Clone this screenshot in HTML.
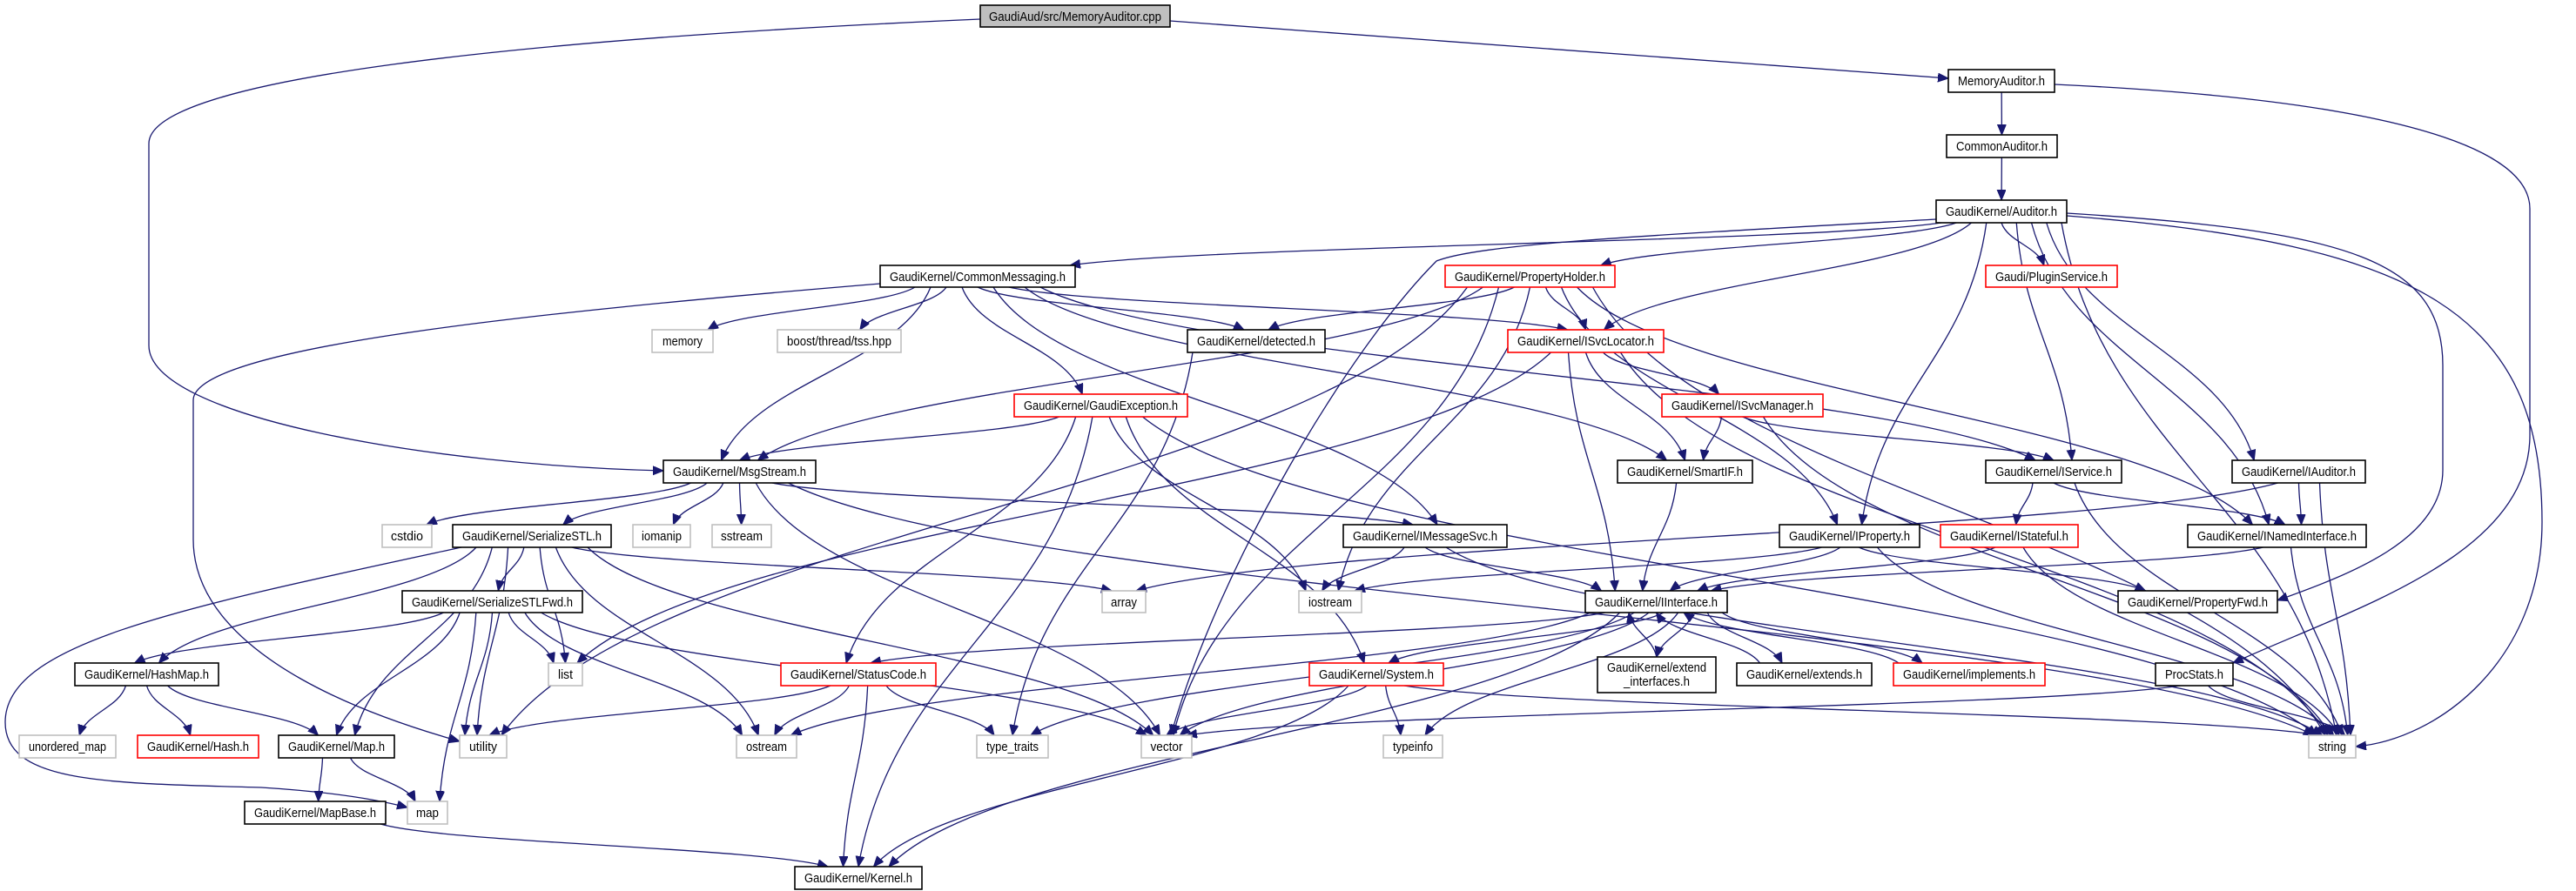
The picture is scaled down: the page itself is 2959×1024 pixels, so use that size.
<!DOCTYPE html>
<html><head><meta charset="utf-8">
<style>
html,body{margin:0;padding:0;background:#fff;}
svg{display:block;}
text{font-family:"Liberation Sans",Helvetica,Arial,sans-serif;font-size:15px;fill:#000;}
.b{fill:#fff;stroke:#000;stroke-width:1.6;}
.r{fill:#fff;stroke:#ff0000;stroke-width:1.6;}
.g{fill:#fff;stroke:#bfbfbf;stroke-width:1.6;}
.e{fill:none;stroke:#191970;stroke-width:1.3;}
</style></head>
<body>
<svg id="s" xmlns="http://www.w3.org/2000/svg" width="2959" height="1024" viewBox="0 0 2959 1024">
<defs><marker id="a" markerUnits="userSpaceOnUse" markerWidth="14" markerHeight="12" refX="12" refY="5" orient="auto"><path d="M0,0 L12,5 L0,10 z" fill="#191970" stroke="#191970"/></marker></defs>
<g id="edges"></g>
<g id="nodes">
<rect x="1126" y="6" width="218" height="25" fill="#bfbfbf" stroke="#000" stroke-width="1.6"/><text x="1235" y="24" text-anchor="middle" textLength="198" lengthAdjust="spacingAndGlyphs">GaudiAud/src/MemoryAuditor.cpp</text>
<rect class="b" x="2238" y="80" width="122" height="26"/><text x="2299" y="98" text-anchor="middle" textLength="100" lengthAdjust="spacingAndGlyphs">MemoryAuditor.h</text>
<rect class="b" x="2236" y="155" width="127" height="26"/><text x="2299.5" y="173" text-anchor="middle" textLength="105" lengthAdjust="spacingAndGlyphs">CommonAuditor.h</text>
<rect class="b" x="2224" y="230" width="150" height="26"/><text x="2299" y="248" text-anchor="middle" textLength="128" lengthAdjust="spacingAndGlyphs">GaudiKernel/Auditor.h</text>
<rect class="r" x="2281" y="305" width="151" height="25"/><text x="2356.5" y="323" text-anchor="middle" textLength="129" lengthAdjust="spacingAndGlyphs">Gaudi/PluginService.h</text>
<rect class="b" x="1011" y="305" width="224" height="25"/><text x="1123" y="323" text-anchor="middle" textLength="202" lengthAdjust="spacingAndGlyphs">GaudiKernel/CommonMessaging.h</text>
<rect class="r" x="1660" y="305" width="195" height="25"/><text x="1757.5" y="323" text-anchor="middle" textLength="173" lengthAdjust="spacingAndGlyphs">GaudiKernel/PropertyHolder.h</text>
<rect class="g" x="749" y="379" width="70" height="26"/><text x="784" y="397" text-anchor="middle" textLength="46" lengthAdjust="spacingAndGlyphs">memory</text>
<rect class="g" x="893" y="379" width="142" height="26"/><text x="964" y="397" text-anchor="middle" textLength="120" lengthAdjust="spacingAndGlyphs">boost/thread/tss.hpp</text>
<rect class="b" x="1364" y="379" width="158" height="26"/><text x="1443" y="397" text-anchor="middle" textLength="136" lengthAdjust="spacingAndGlyphs">GaudiKernel/detected.h</text>
<rect class="r" x="1732" y="379" width="179" height="26"/><text x="1821.5" y="397" text-anchor="middle" textLength="157" lengthAdjust="spacingAndGlyphs">GaudiKernel/ISvcLocator.h</text>
<rect class="r" x="1165" y="453" width="199" height="26"/><text x="1264.5" y="471" text-anchor="middle" textLength="177" lengthAdjust="spacingAndGlyphs">GaudiKernel/GaudiException.h</text>
<rect class="r" x="1909" y="453" width="185" height="26"/><text x="2001.5" y="471" text-anchor="middle" textLength="163" lengthAdjust="spacingAndGlyphs">GaudiKernel/ISvcManager.h</text>
<rect class="b" x="762" y="529" width="175" height="26"/><text x="849.5" y="547" text-anchor="middle" textLength="153" lengthAdjust="spacingAndGlyphs">GaudiKernel/MsgStream.h</text>
<rect class="b" x="1858" y="529" width="155" height="26"/><text x="1935.5" y="547" text-anchor="middle" textLength="133" lengthAdjust="spacingAndGlyphs">GaudiKernel/SmartIF.h</text>
<rect class="b" x="2281" y="529" width="156" height="26"/><text x="2359" y="547" text-anchor="middle" textLength="134" lengthAdjust="spacingAndGlyphs">GaudiKernel/IService.h</text>
<rect class="b" x="2564" y="529" width="153" height="26"/><text x="2640.5" y="547" text-anchor="middle" textLength="131" lengthAdjust="spacingAndGlyphs">GaudiKernel/IAuditor.h</text>
<rect class="g" x="439" y="603" width="57" height="26"/><text x="467.5" y="621" text-anchor="middle" textLength="37" lengthAdjust="spacingAndGlyphs">cstdio</text>
<rect class="b" x="520" y="603" width="182" height="26"/><text x="611" y="621" text-anchor="middle" textLength="160" lengthAdjust="spacingAndGlyphs">GaudiKernel/SerializeSTL.h</text>
<rect class="g" x="727" y="603" width="66" height="26"/><text x="760" y="621" text-anchor="middle" textLength="46" lengthAdjust="spacingAndGlyphs">iomanip</text>
<rect class="g" x="818" y="603" width="68" height="26"/><text x="852" y="621" text-anchor="middle" textLength="48" lengthAdjust="spacingAndGlyphs">sstream</text>
<rect class="b" x="1543" y="603" width="188" height="26"/><text x="1637" y="621" text-anchor="middle" textLength="166" lengthAdjust="spacingAndGlyphs">GaudiKernel/IMessageSvc.h</text>
<rect class="b" x="2044" y="603" width="161" height="26"/><text x="2124.5" y="621" text-anchor="middle" textLength="139" lengthAdjust="spacingAndGlyphs">GaudiKernel/IProperty.h</text>
<rect class="r" x="2229" y="603" width="158" height="26"/><text x="2308" y="621" text-anchor="middle" textLength="136" lengthAdjust="spacingAndGlyphs">GaudiKernel/IStateful.h</text>
<rect class="b" x="2513" y="603" width="205" height="26"/><text x="2615.5" y="621" text-anchor="middle" textLength="183" lengthAdjust="spacingAndGlyphs">GaudiKernel/INamedInterface.h</text>
<rect class="b" x="462" y="679" width="207" height="25"/><text x="565.5" y="697" text-anchor="middle" textLength="185" lengthAdjust="spacingAndGlyphs">GaudiKernel/SerializeSTLFwd.h</text>
<rect class="g" x="1266" y="679" width="50" height="25"/><text x="1291" y="697" text-anchor="middle" textLength="30" lengthAdjust="spacingAndGlyphs">array</text>
<rect class="g" x="1492" y="679" width="72" height="25"/><text x="1528" y="697" text-anchor="middle" textLength="50" lengthAdjust="spacingAndGlyphs">iostream</text>
<rect class="b" x="1821" y="679" width="163" height="25"/><text x="1902.5" y="697" text-anchor="middle" textLength="141" lengthAdjust="spacingAndGlyphs">GaudiKernel/IInterface.h</text>
<rect class="b" x="2433" y="679" width="183" height="25"/><text x="2524.5" y="697" text-anchor="middle" textLength="161" lengthAdjust="spacingAndGlyphs">GaudiKernel/PropertyFwd.h</text>
<rect class="b" x="86" y="762" width="165" height="26"/><text x="168.5" y="780" text-anchor="middle" textLength="143" lengthAdjust="spacingAndGlyphs">GaudiKernel/HashMap.h</text>
<rect class="g" x="630" y="762" width="39" height="26"/><text x="649.5" y="780" text-anchor="middle" textLength="17" lengthAdjust="spacingAndGlyphs">list</text>
<rect class="r" x="897" y="762" width="178" height="26"/><text x="986" y="780" text-anchor="middle" textLength="156" lengthAdjust="spacingAndGlyphs">GaudiKernel/StatusCode.h</text>
<rect class="r" x="1504" y="762" width="154" height="26"/><text x="1581" y="780" text-anchor="middle" textLength="132" lengthAdjust="spacingAndGlyphs">GaudiKernel/System.h</text>
<rect class="b" x="1835" y="755" width="136" height="41"/><text x="1903" y="772" text-anchor="middle" textLength="114" lengthAdjust="spacingAndGlyphs">GaudiKernel/extend</text><text x="1903" y="788" text-anchor="middle" textLength="76" lengthAdjust="spacingAndGlyphs">_interfaces.h</text>
<rect class="b" x="1995" y="762" width="155" height="26"/><text x="2072.5" y="780" text-anchor="middle" textLength="133" lengthAdjust="spacingAndGlyphs">GaudiKernel/extends.h</text>
<rect class="r" x="2175" y="762" width="174" height="26"/><text x="2262" y="780" text-anchor="middle" textLength="152" lengthAdjust="spacingAndGlyphs">GaudiKernel/implements.h</text>
<rect class="b" x="2476" y="762" width="89" height="26"/><text x="2520.5" y="780" text-anchor="middle" textLength="67" lengthAdjust="spacingAndGlyphs">ProcStats.h</text>
<rect class="g" x="22" y="845" width="111" height="26"/><text x="77.5" y="863" text-anchor="middle" textLength="89" lengthAdjust="spacingAndGlyphs">unordered_map</text>
<rect class="r" x="158" y="845" width="139" height="26"/><text x="227.5" y="863" text-anchor="middle" textLength="117" lengthAdjust="spacingAndGlyphs">GaudiKernel/Hash.h</text>
<rect class="b" x="320" y="845" width="133" height="26"/><text x="386.5" y="863" text-anchor="middle" textLength="111" lengthAdjust="spacingAndGlyphs">GaudiKernel/Map.h</text>
<rect class="g" x="528" y="845" width="54" height="26"/><text x="555" y="863" text-anchor="middle" textLength="32" lengthAdjust="spacingAndGlyphs">utility</text>
<rect class="g" x="846" y="845" width="69" height="26"/><text x="880.5" y="863" text-anchor="middle" textLength="47" lengthAdjust="spacingAndGlyphs">ostream</text>
<rect class="g" x="1122" y="845" width="82" height="26"/><text x="1163" y="863" text-anchor="middle" textLength="60" lengthAdjust="spacingAndGlyphs">type_traits</text>
<rect class="g" x="1311" y="845" width="58" height="26"/><text x="1340" y="863" text-anchor="middle" textLength="37" lengthAdjust="spacingAndGlyphs">vector</text>
<rect class="g" x="1589" y="845" width="68" height="26"/><text x="1623" y="863" text-anchor="middle" textLength="46" lengthAdjust="spacingAndGlyphs">typeinfo</text>
<rect class="g" x="2652" y="845" width="54" height="26"/><text x="2679" y="863" text-anchor="middle" textLength="32" lengthAdjust="spacingAndGlyphs">string</text>
<rect class="b" x="281" y="921" width="162" height="26"/><text x="362" y="939" text-anchor="middle" textLength="140" lengthAdjust="spacingAndGlyphs">GaudiKernel/MapBase.h</text>
<rect class="g" x="468" y="921" width="46" height="26"/><text x="491" y="939" text-anchor="middle" textLength="26" lengthAdjust="spacingAndGlyphs">map</text>
<rect class="b" x="913" y="996" width="146" height="26"/><text x="986" y="1014" text-anchor="middle" textLength="124" lengthAdjust="spacingAndGlyphs">GaudiKernel/Kernel.h</text>
</g>
</svg>
<script>
var N={cpp:[1126,6,1344,31],mah:[2238,80,2360,106],cah:[2236,155,2363,181],aud:[2224,230,2374,256],plug:[2281,305,2432,330],cm:[1011,305,1235,330],ph:[1660,305,1855,330],memory:[749,379,819,405],boost:[893,379,1035,405],det:[1364,379,1522,405],isl:[1732,379,1911,405],gex:[1165,453,1364,479],ism:[1909,453,2094,479],msg:[762,529,937,555],smart:[1858,529,2013,555],isvc:[2281,529,2437,555],iaud:[2564,529,2717,555],cstdio:[439,603,496,629],sstl:[520,603,702,629],iomanip:[727,603,793,629],sstream:[818,603,886,629],imsg:[1543,603,1731,629],iprop:[2044,603,2205,629],istate:[2229,603,2387,629],inamed:[2513,603,2718,629],sfwd:[462,679,669,704],array:[1266,679,1316,704],iostream:[1492,679,1564,704],iint:[1821,679,1984,704],pfwd:[2433,679,2616,704],hashmap:[86,762,251,788],list:[630,762,669,788],sc:[897,762,1075,788],sys:[1504,762,1658,788],extif:[1835,755,1971,796],extends:[1995,762,2150,788],impl:[2175,762,2349,788],procstats:[2476,762,2565,788],umap:[22,845,133,871],hash:[158,845,297,871],map_h:[320,845,453,871],utility:[528,845,582,871],ostream:[846,845,915,871],ttraits:[1122,845,1204,871],vector:[1311,845,1369,871],typeinfo:[1589,845,1657,871],string:[2652,845,2706,871],mapbase:[281,921,443,947],map:[468,921,514,947],kernel:[913,996,1059,1022]};
var E={cm:['memory','boost','msg','det','isl','gex','imsg','smart','isvc'],
ph:['msg','det','isl','iprop','inamed','string','iostream','vector','utility'],
aud:['cm','ph','plug','isl','isvc','iaud','iprop','string','inamed'],
mah:['cah'],cah:['aud'],det:['ttraits'],
isl:['list','ism','smart','iint','string'],
gex:['msg','sc','sys','kernel','iostream','string'],
ism:['smart','isvc','string'],
msg:['cstdio','sstl','iomanip','sstream','imsg','vector','string'],
smart:['iint'],isvc:['istate','inamed','string'],iaud:['inamed','string','array'],
sstl:['sfwd','hashmap','map_h','utility','list','ostream','vector','array'],
imsg:['iostream','iint','string'],iprop:['iint','pfwd','string','iostream'],
istate:['iint','string'],inamed:['iint','string'],
sfwd:['hashmap','map_h','list','utility','map','ostream','vector'],
iint:['sc','sys','extif','extends','impl','ostream','ttraits','typeinfo','kernel','vector'],
extif:['iint'],extends:['iint'],impl:['iint'],
hashmap:['umap','hash','map_h'],sc:['utility','ostream','ttraits','kernel'],
sys:['vector','typeinfo','string','kernel'],procstats:['vector','string'],
map_h:['mapbase','map'],mapbase:['kernel']};
var custom=["M1344 24 L2238 90",
"M1126 22 C600 45 171 90 171 165 L171 397 C171 480 500 535 762 541",
"M2360 97 C2750 115 2906 170 2906 240 L2906 500 C2906 640 2700 700 2565 762",
"M1011 326 C600 360 222 400 222 460 L222 620 C222 760 450 830 528 852",
"M530 629 C200 700 6 740 6 830 C6 900 120 900 300 905 C380 910 430 918 468 928",
"M2224 252 C1900 270 1700 280 1650 300 C1550 400 1400 650 1345 845",
"M2374 245 C2700 265 2806 300 2806 420 L2806 540 C2806 620 2700 660 2616 690",
"M2374 248 C2780 280 2920 360 2920 600 C2920 760 2800 850 2706 858"];
function cx(n){return (N[n][0]+N[n][2])/2;}
var list=[],inc={},outg={};
for(var a in E){E[a].forEach(function(b){var e={a:a,b:b};list.push(e);(inc[b]=inc[b]||[]).push(e);(outg[a]=outg[a]||[]).push(e);});}
for(var k in inc){var L=inc[k];L.sort(function(p,q){return cx(p.a)-cx(q.a);});var t=N[k],w=t[2]-t[0]-12,n=L.length;
 L.forEach(function(e,i){var c=cx(k);var spread=Math.min(w,n*14);e.tx=n==1?c+Math.max(-w/2,Math.min(w/2,(cx(e.a)-c)*0.15)):c-spread/2+spread*i/(n-1);});}
for(var k in outg){var L=outg[k];L.sort(function(p,q){return cx(p.b)-cx(q.b);});var s=N[k],w=s[2]-s[0]-12,n=L.length;
 L.forEach(function(e,i){var c=cx(k);var spread=Math.min(w,n*16);e.sx=n==1?c+Math.max(-w/2,Math.min(w/2,(cx(e.b)-c)*0.3)):c-spread/2+spread*i/(n-1);});}
var out='';
function P(d){out+='<path class="e" marker-end="url(#a)" d="'+d+'"/>';}
list.forEach(function(e){
 var s=N[e.a],t=N[e.b],sx=e.sx,tx=e.tx,sy,ty;
 if(t[1]>s[3]){sy=s[3];ty=t[1];}else{sy=s[1];ty=t[3];}
 var dy=ty-sy,dx=tx-sx;
 P('M'+sx+' '+sy+' C'+(sx+dx*0.15)+' '+(sy+dy*0.45)+' '+(tx-dx*0.15)+' '+(ty-dy*0.45)+' '+tx+' '+ty);
});
custom.forEach(P);
document.getElementById('edges').innerHTML=out;
</script>
</body></html>
